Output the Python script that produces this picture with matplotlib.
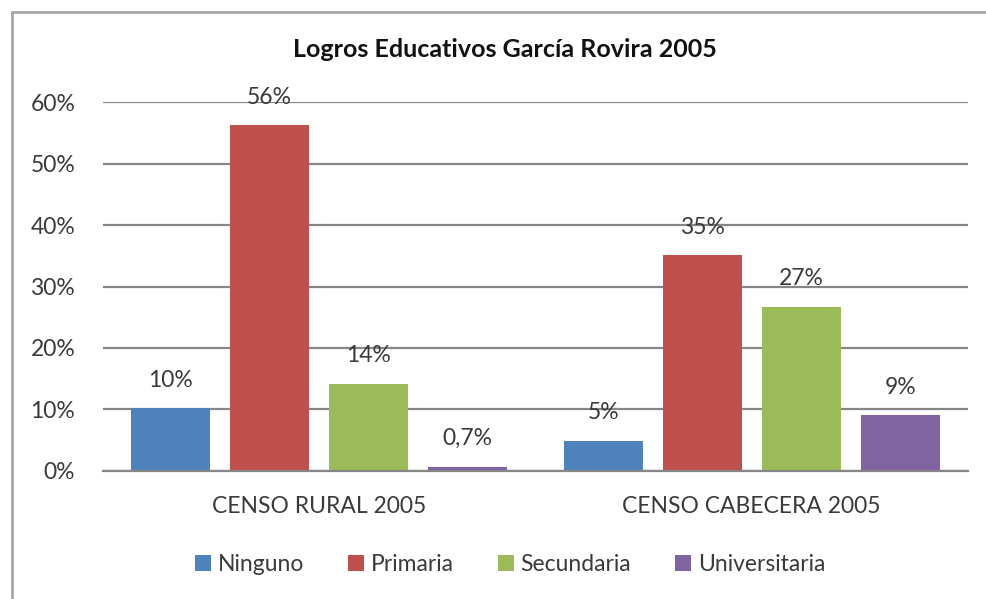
import matplotlib
import numpy as np

matplotlib.use("Agg")
import matplotlib.pyplot as plt
from matplotlib.patches import Rectangle

plt.rcParams["font.family"] = ["Lato", "DejaVu Sans"]

TITLE = "Logros Educativos García Rovira 2005"
GROUPS = ["CENSO RURAL 2005", "CENSO CABECERA 2005"]
SERIES = ["Ninguno", "Primaria", "Secundaria", "Universitaria"]
COLORS = ["#4F81BD", "#C0504D", "#9BBB59", "#8064A2"]

# values per series, one entry per group (fraction)
NINGUNO = [0.102, 0.049]
PRIMARIA = [0.562, 0.351]
SECUNDARIA = [0.142, 0.267]
UNIVERSITARIA = [0.007, 0.091]
LABELS = [
    ["10%", "5%"],
    ["56%", "35%"],
    ["14%", "27%"],
    ["0,7%", "9%"],
]

Y_TICKS = [0.0, 0.1, 0.2, 0.3, 0.4, 0.5, 0.6]
Y_TICK_LABELS = ["0%", "10%", "20%", "30%", "40%", "50%", "60%"]

TEXT = "#3a3a3a"
GRID = "#868686"
FS = 16.5

fig = plt.figure(figsize=(9.87, 5.99), dpi=100)
ax = fig.add_axes([0.1044, 0.2137, 0.8763, 0.616])

values = [NINGUNO, PRIMARIA, SECUNDARIA, UNIVERSITARIA]
x = np.arange(len(GROUPS))
step = 0.229
width = 0.183
for i, (name, vals, color, labs) in enumerate(zip(SERIES, values, COLORS, LABELS)):
    pos = x + (i - 1.5) * step
    bars = ax.bar(pos, vals, width=width, color=color, label=name, zorder=3)
    for b, lab in zip(bars, labs):
        ax.annotate(lab, (b.get_x() + b.get_width() / 2, b.get_height()),
                    xytext=(0, 28), textcoords="offset pixels",
                    ha="center", va="center", fontsize=FS, color=TEXT,
                    zorder=4)

ax.set_xlim(-0.5, 1.5)
ax.set_ylim(0, 0.6)
ax.set_yticks(Y_TICKS)
ax.set_yticklabels(Y_TICK_LABELS)
ax.set_xticks(x)
ax.set_xticklabels(GROUPS)
ax.tick_params(axis="y", length=0, pad=20, labelsize=FS, labelcolor=TEXT)
ax.tick_params(axis="x", length=0, pad=18, labelsize=FS, labelcolor=TEXT)
ax.grid(axis="y", color=GRID, linewidth=1.6, zorder=0)
for side in ["left", "right", "top"]:
    ax.spines[side].set_visible(False)
ax.spines["bottom"].set_color(GRID)
ax.spines["bottom"].set_linewidth(1.6)
ax.spines["bottom"].set_zorder(5)

fig.text(0.512, 0.918, TITLE, ha="center", va="center", fontsize=18,
         fontweight="bold", color="#111111")

fig.legend(loc="center", bbox_to_anchor=(0.517, 0.058), ncol=4, frameon=False,
           fontsize=FS, handlelength=0.7, handleheight=0.7,
           handletextpad=0.3, columnspacing=1.9, labelcolor=TEXT)

# outer chart border
fig.patches.append(Rectangle((12 / 987, -0.1), 1.2, 1 - 12 / 599 + 0.1,
                             transform=fig.transFigure, fill=False,
                             edgecolor="#a6a6a6", linewidth=2))

fig.savefig("out.png", dpi=100)
